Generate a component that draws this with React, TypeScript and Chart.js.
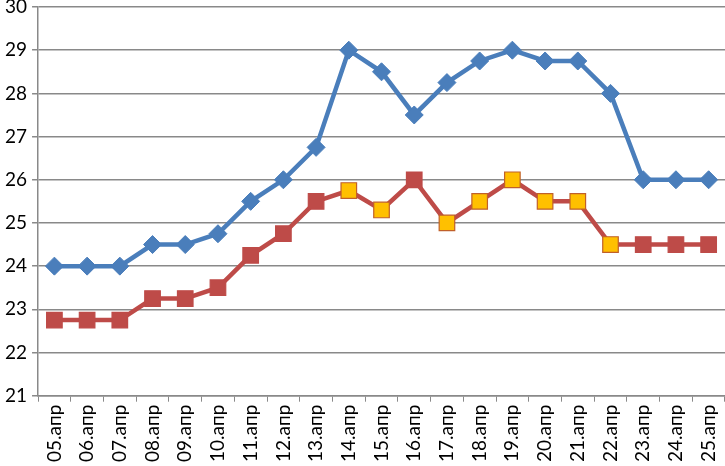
import React, { useEffect, useRef } from "react";
import { Chart, registerables } from "chart.js";

Chart.register(...registerables);

const categories = [
  "05.апр", "06.апр", "07.апр", "08.апр", "09.апр", "10.апр", "11.апр",
  "12.апр", "13.апр", "14.апр", "15.апр", "16.апр", "17.апр", "18.апр",
  "19.апр", "20.апр", "21.апр", "22.апр", "23.апр", "24.апр", "25.апр",
];

const blueSeries = [24, 24, 24, 24.5, 24.5, 24.75, 25.5, 26, 26.75, 29, 28.5, 27.5, 28.25, 28.75, 29, 28.75, 28.75, 28, 26, 26, 26];
const redSeries = [22.75, 22.75, 22.75, 23.25, 23.25, 23.5, 24.25, 24.75, 25.5, 25.75, 25.3, 26, 25, 25.5, 26, 25.5, 25.5, 24.5, 24.5, 24.5, 24.5];
// 1 = marker highlighted in yellow
const redHighlight = [0, 0, 0, 0, 0, 0, 0, 0, 0, 1, 1, 0, 1, 1, 1, 1, 1, 1, 0, 0, 0];

const yMin = 21;
const yMax = 30;

const BLUE = "#4A7EBB";
const RED = "#BE4B48";
const YELLOW = "#FFC000";
const GRID = "#898989";
const FONT = "Lato, 'Open Sans', sans-serif";

export default function App() {
  const ref = useRef<HTMLCanvasElement>(null);

  useEffect(() => {
    document.body.style.margin = "0";
    const canvas = ref.current;
    if (!canvas) return;
    const chart = new Chart(canvas, {
      type: "line",
      data: {
        labels: categories,
        datasets: [
          {
            data: blueSeries,
            borderColor: BLUE,
            backgroundColor: BLUE,
            borderWidth: 4.5,
            pointStyle: "rectRot",
            pointRadius: 9,
            pointBackgroundColor: BLUE,
            pointBorderColor: BLUE,
            pointBorderWidth: 1,
            tension: 0,
          },
          {
            data: redSeries,
            borderColor: RED,
            backgroundColor: RED,
            borderWidth: 4.5,
            pointStyle: "rect",
            pointRadius: 11,
            pointBackgroundColor: redHighlight.map((h) => (h ? YELLOW : RED)),
            pointBorderColor: redHighlight.map((h) => (h ? "#C0602A" : RED)),
            pointBorderWidth: 1.2,
            tension: 0,
          },
        ],
      },
      options: {
        animation: false,
        responsive: false,
        maintainAspectRatio: false,
        clip: false,
        layout: { autoPadding: false, padding: { top: 0, right: 0, left: 0, bottom: 1 } },
        plugins: {
          legend: { display: false },
          tooltip: { enabled: false },
        },
        scales: {
          x: {
            type: "category",
            offset: true,
            afterFit: (scale: any) => {
              scale.paddingRight = 0;
            },
            grid: {
              display: true,
              drawOnChartArea: false,
              drawTicks: true,
              tickLength: 6,
              offset: true,
              color: GRID,
              lineWidth: 1,
            },
            border: { display: true, color: GRID, width: 1.5 },
            ticks: {
              color: "#000",
              font: { family: FONT, size: 19 },
              minRotation: 90,
              maxRotation: 90,
              autoSkip: false,
              padding: 3,
            },
          },
          y: {
            min: yMin,
            max: yMax,
            afterFit: (scale: any) => {
              scale.paddingTop = 7;
            },
            grid: {
              color: GRID,
              lineWidth: 1.5,
              drawTicks: true,
              tickLength: 6,
            },
            border: { display: true, color: GRID, width: 1.5 },
            ticks: {
              stepSize: 1,
              color: "#000",
              font: { family: FONT, size: 19 },
              padding: 5,
            },
          },
        },
      },
    });
    return () => chart.destroy();
  }, []);

  return <canvas ref={ref} width={725} height={466} style={{ display: "block" }} />;
}
